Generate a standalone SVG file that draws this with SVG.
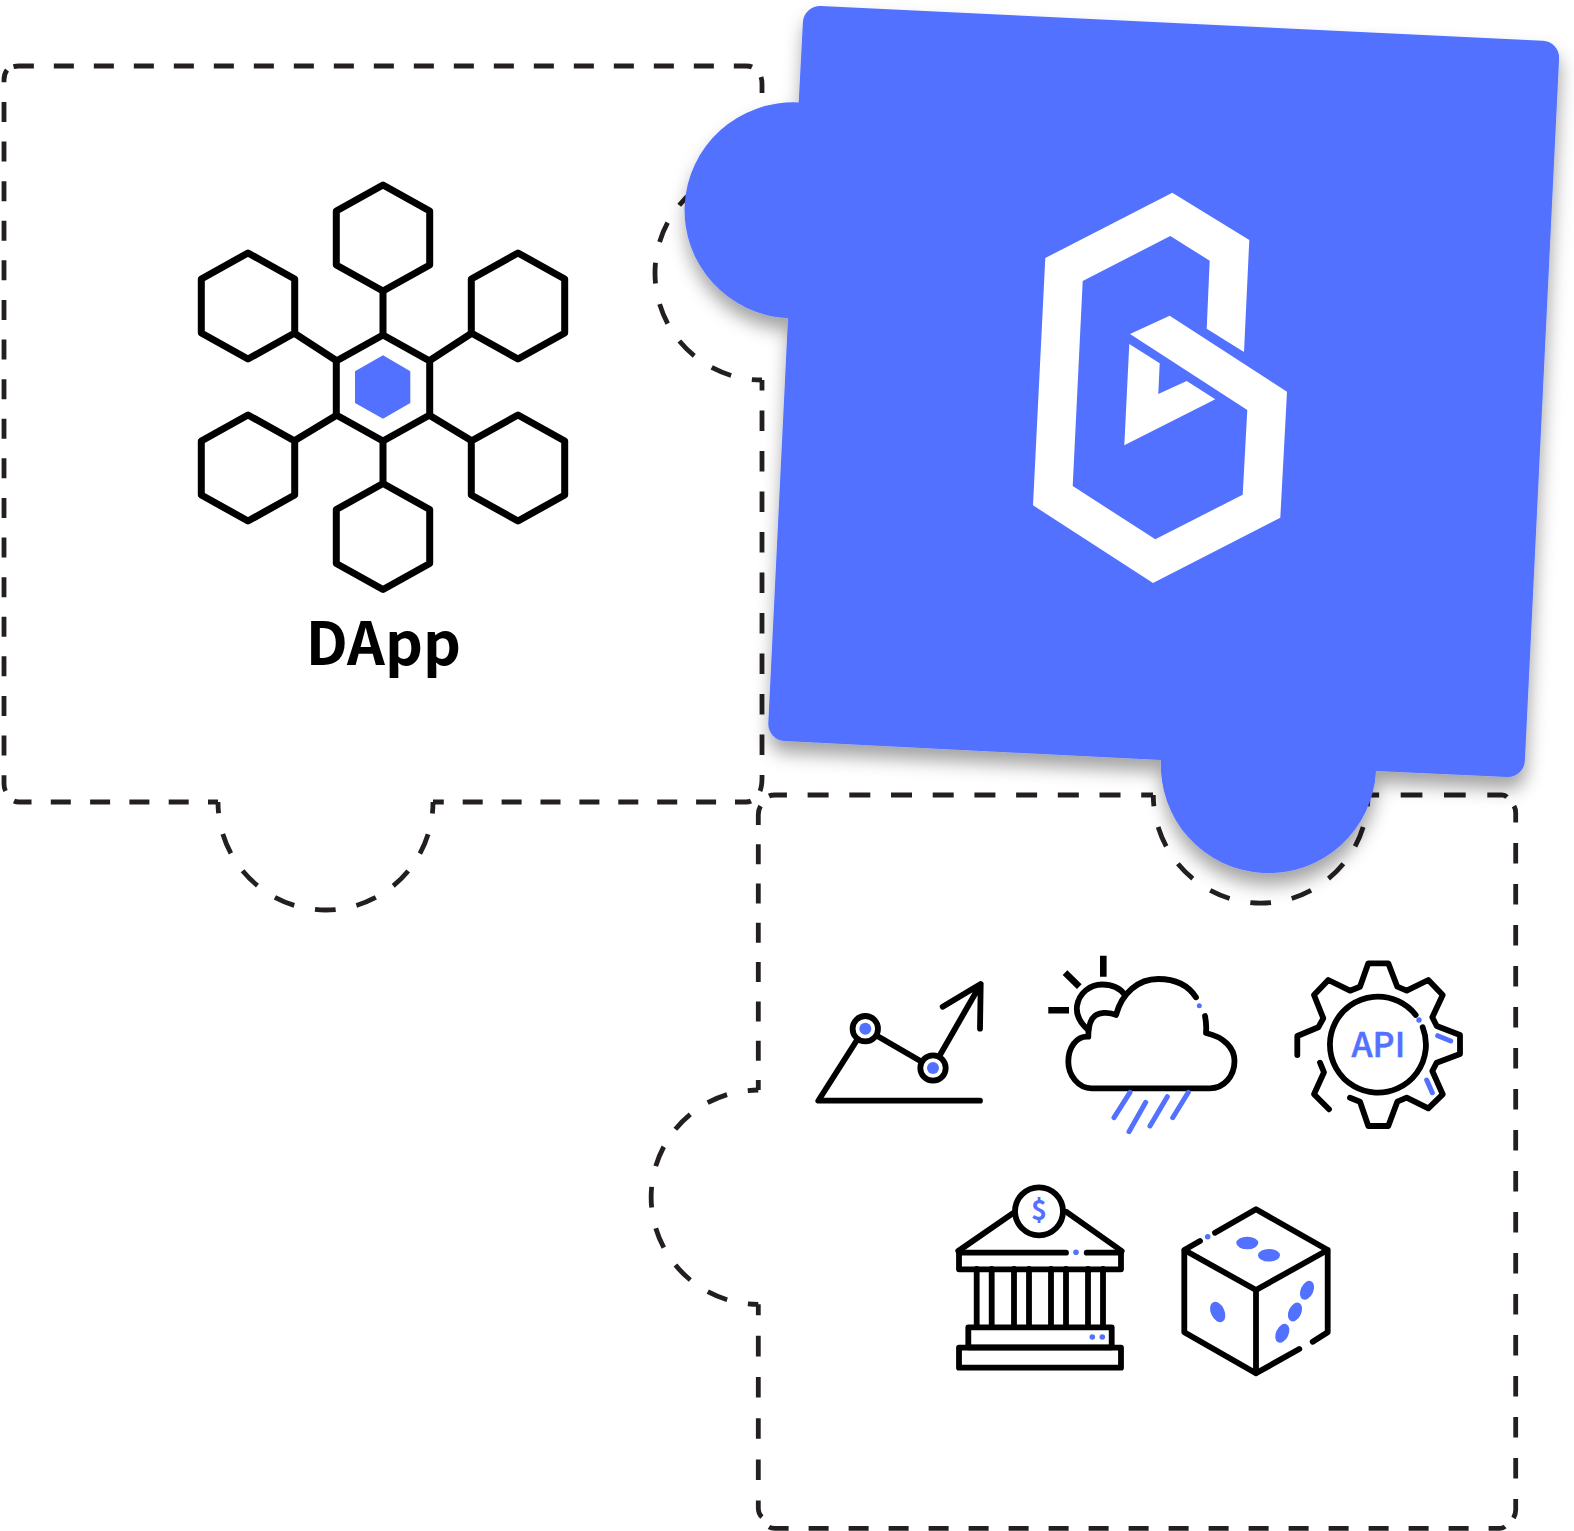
<svg xmlns="http://www.w3.org/2000/svg" width="1574" height="1531" viewBox="0 0 1574 1531">
<style>
.d{fill:none;stroke:#231f20;stroke-width:4.8}
.k{fill:none;stroke:#000;stroke-width:5.8;stroke-linecap:round;stroke-linejoin:round}
.h{fill:none;stroke:#000;stroke-width:7;stroke-linejoin:round}
.b{fill:#5271ff}
.bl{fill:none;stroke:#5271ff;stroke-width:5;stroke-linecap:round}
.t{font-family:"Noto Sans CJK SC","Noto Sans",sans-serif;text-anchor:middle}
</style>
<defs>
<filter id="sh" x="-10%" y="-10%" width="120%" height="120%"><feDropShadow dx="1" dy="12" stdDeviation="9" flood-color="#000" flood-opacity="0.36"/></filter>
<polygon id="hx" points="0,-53 46.700,-27 46.700,27 0,53 -46.700,27 -46.700,-27"/>
</defs>
<rect width="1574" height="1531" fill="#fff"/>
<g id="connectors">
<g id="dapp-outline">
<path class="d" stroke-dasharray="20 19.3" stroke-dashoffset="10" d="M218 802H19Q16 802 14 801"/>
<path class="d" stroke-dasharray="20 19.6" stroke-dashoffset="4" d="M5.500 791Q4 788 4 784V80Q4 74 7 70"/>
<path class="d" stroke-dasharray="20 20" stroke-dashoffset="37" d="M11 67.500Q14 66 19 66H746Q750 66 752 67"/>
<path class="d" d="M761 77Q762 80 762 84V93"/>
<path class="d" stroke-dasharray="21 21" stroke-dashoffset="10.500" d="M762 166A107 107 0 0 0 762 380"/>
<path class="d" stroke-dasharray="20.500 20" stroke-dashoffset="10" d="M762 380V778Q762 786 760 791"/>
<path class="d" stroke-dasharray="21 21" stroke-dashoffset="9.600" d="M218 802A107.500 108 0 0 0 433 802"/>
<path class="d" stroke-dasharray="20 18.900" stroke-dashoffset="9.200" d="M433 802H746Q749 802 751 801"/>
</g>
<g id="services-outline">
<path class="d" stroke-dasharray="21 20.700" stroke-dashoffset="3" d="M769 796Q771 795 775 795H1153"/>
<path class="d" stroke-dasharray="21 21" stroke-dashoffset="9.500" d="M1153.300 795A107.300 108 0 0 0 1368 795"/>
<path class="d" stroke-dasharray="21.700 21.600" stroke-dashoffset="10.600" d="M1368 795H1502Q1505 795 1507 797"/>
<path class="d" stroke-dasharray="20.500 20.500" stroke-dashoffset="3.700" d="M1514 806Q1515.700 809 1515.700 813V1510Q1515.700 1514 1513.500 1518"/>
<path class="d" stroke-dasharray="20 20" stroke-dashoffset="3.300" d="M1505 1526.500Q1503 1528.300 1500 1528.300H775Q771 1528.300 769 1527"/>
<path class="d" stroke-dasharray="20.600 20.600" stroke-dashoffset="3.200" d="M762 1517Q758.300 1514 758.300 1508V1304.300"/>
<path class="d" stroke-dasharray="21 21" stroke-dashoffset="10.300" d="M758.300 1090A107.100 107.100 0 0 0 758.300 1304.300"/>
<path class="d" stroke-dasharray="20 19.300" stroke-dashoffset="10" d="M758.300 1090V815Q758.300 810 760.500 806"/>
</g>
</g>
<g id="puzzle-piece">
<path class="b" filter="url(#sh)" d="M802.900 22.200A17 17 0 0 1 820.700 6L1542.900 40.700A17 17 0 0 1 1559.100 58.500L1524.900 760.800A17 17 0 0 1 1507.100 777L1376 771A107.500 107.500 0 0 1 1161 760L784.500 741A17 17 0 0 1 768.300 723.200L788 318.300A108.800 108 2.800 0 1 798.700 102.500Z"/>
<path fill="#fff" d="M1172.300 192.700L1249.300 240L1244 352L1206.700 328.700L1209.700 260.700L1170.300 236L1082.700 281L1072.700 486L1155.300 539.300L1242.700 494.700L1247.300 410L1130 334L1169.700 315.700L1287 391.700L1280.300 517.700L1153 583L1033 505.300L1045.300 258Z"/>
<path fill="#fff" d="M1129.300 344L1159.700 363.300L1158.300 394L1186.700 381L1215.300 399.300L1124.300 445.300Z"/>
</g>
<g id="dapp">
<g class="h">
<use href="#hx" x="383" y="238"/>
<use href="#hx" x="248" y="306"/>
<use href="#hx" x="518" y="306"/>
<use href="#hx" x="383" y="388"/>
<use href="#hx" x="248" y="468"/>
<use href="#hx" x="518" y="468"/>
<use href="#hx" x="383" y="536.500"/>
<path d="M383 291V335M383 441V483M294 333L337 361M472 333L429 361M294 441L337 415M472 441L429 415"/>
</g>
<polygon class="b" points="383,355.300 410.300,371.300 410.300,403 383,418.700 355,403 355,371.300"/>
<text class="t" x="383.300" y="665" font-size="59" font-weight="700">DApp</text>
</g>
<g id="chart">
<path class="k" d="M857 1040L818.300 1100.700H980M877.300 1036L921.700 1061.700M940 1055L980.700 984M942.700 1006.700L980.700 984L980 1028.700"/>
<circle class="k" cx="865.300" cy="1028.700" r="12.700"/>
<circle class="k" cx="933" cy="1068" r="12.700"/>
<circle class="b" cx="865.300" cy="1028.700" r="6"/>
<circle class="b" cx="933" cy="1068" r="6"/>
</g>
<g id="weather">
<path fill="none" stroke="#000" stroke-width="6.600" d="M1103.300 955.700V976.700M1065 972.700L1079.300 986.700M1048.300 1010.300H1069"/>
<path class="k" d="M1088.300 1030C1079 1022 1076 1014 1077 1006C1079 993 1090 984.500 1102 984.500C1112 984.500 1120 988 1125 995"/>
<path class="k" d="M1196 997.300C1188 985 1174 979 1158.300 979C1138 979 1122 993 1116 1015C1110 1012 1097 1011 1092 1019C1089 1024 1088.300 1030 1088.300 1036.700C1076 1036 1068.300 1048 1068.300 1061.700C1068.300 1075 1078 1088.300 1091.700 1088.300H1210C1224 1088.300 1234.500 1076 1234.500 1061C1234.500 1048 1224 1037 1206 1033C1206.500 1027 1206 1021 1205 1016"/>
<circle class="b" cx="1199.300" cy="1005.700" r="2.500"/>
<path class="bl" d="M1130 1092.300L1114 1117.700M1145.700 1102.300L1129 1131.700M1167.300 1096.700L1150 1126M1188.300 1092.300L1172.700 1117.700"/>
</g>
<g id="api">
<path class="k" d="M1297.300 1055V1036L1318.300 1027.300L1323.300 1018.300L1314 995L1328.300 980L1350 990.700L1360 986.700L1368.300 963.300H1388.300L1397.300 986.700L1406.700 990.700L1428.300 980L1442.700 995L1432.300 1017.300L1436.700 1026L1460 1035V1054L1436.700 1062.700L1432.300 1071L1442.700 1094.300L1428.300 1108.300L1406.700 1097.700L1397.300 1101.700L1388.300 1126H1368.300L1360 1101.700L1350 1097.700"/>
<path class="k" d="M1320 1062.700L1324 1072.300L1314 1094.300L1329 1109.300"/>
<path class="k" d="M1415.700 1015A48 48 0 1 0 1422.700 1027.300"/>
<circle class="b" cx="1419" cy="1020" r="2.700"/>
<path class="bl" d="M1437.700 1035.700L1450.700 1041M1426.700 1080L1432.300 1092.700"/>
<text class="t" x="1378.300" y="1057.300" font-size="34" font-weight="500" fill="#5271ff" stroke="#5271ff" stroke-width="0.500">API</text>
</g>
<g id="bank">
<circle class="k" cx="1039" cy="1211.300" r="24"/>
<text class="t" x="1039" y="1219.500" font-size="27" font-weight="700" fill="#5271ff">$</text>
<path class="k" d="M1012.700 1213.300L958.300 1251M1066 1211.700L1121.700 1251"/>
<path class="k" d="M1066 1252.700H959V1269.300H1121V1252.700H1086.700"/>
<circle class="b" cx="1076" cy="1252.300" r="2.800"/>
<path class="k" d="M976.700 1269V1327M991.700 1269V1327M1014 1269V1327M1029 1269V1327M1051 1269V1327M1066 1269V1327M1088 1269V1327M1103 1269V1327"/>
<rect class="k" x="968.300" y="1327.300" width="143.400" height="20"/>
<rect class="k" x="959" y="1347.700" width="162" height="20"/>
<circle class="b" cx="1092.300" cy="1337" r="2.800"/>
<circle class="b" cx="1102.300" cy="1337" r="2.800"/>
</g>
<g id="dice">
<path class="k" d="M1200 1241L1184.300 1250V1332.300L1256 1373.300V1290L1184.300 1250M1215 1232.700L1256 1209.300L1327.700 1250L1256 1290M1327.700 1250V1332.300L1312.700 1341.700M1299.300 1349L1256 1373.300"/>
<circle class="b" cx="1207.700" cy="1236.700" r="2.800"/>
<ellipse class="b" cx="1247.300" cy="1243" rx="11" ry="6.300"/>
<ellipse class="b" cx="1269" cy="1255.300" rx="11" ry="6.300"/>
<ellipse class="b" cx="1217.700" cy="1312" rx="6.800" ry="10.800" transform="rotate(-25 1217.700 1312)"/>
<ellipse class="b" cx="1307" cy="1290.300" rx="6.300" ry="10" transform="rotate(25 1307 1290.300)"/>
<ellipse class="b" cx="1295" cy="1312" rx="6.300" ry="10" transform="rotate(25 1295 1312)"/>
<ellipse class="b" cx="1282.300" cy="1333.300" rx="6.300" ry="10" transform="rotate(25 1282.300 1333.300)"/>
</g>
</svg>
